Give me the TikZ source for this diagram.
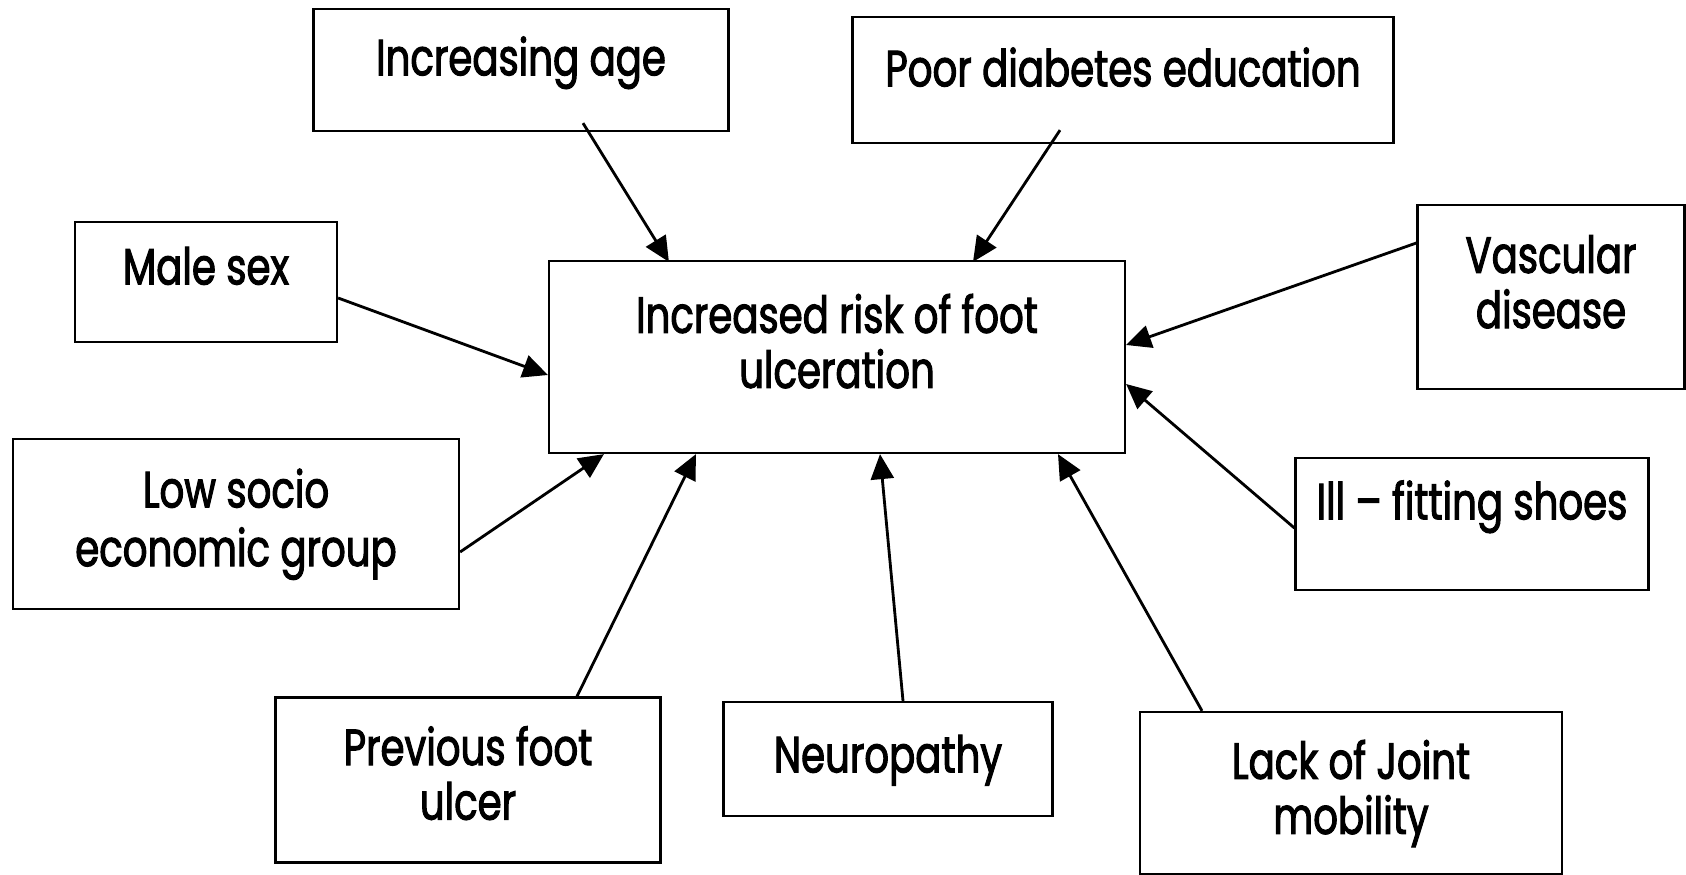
\documentclass[tikz,border=0pt]{standalone}
\usepackage{fontspec}
\setmainfont{Poppins}[FakeStretch=0.76,FakeBold=2]
\usetikzlibrary{arrows.meta}
% box text, lines centred and lifted by #1
\newcommand\bt[2]{\raisebox{#1}[0pt][0pt]{\begin{tabular}{@{}c@{}}#2\end{tabular}}}

\begin{document}
\begin{tikzpicture}[x=0.02cm,y=-0.02cm,>={Triangle[length=0.5cm,width=0.46cm]},font=\fontsize{29}{31}\selectfont]
\tikzstyle{b}=[draw,line width=1.3pt,inner sep=0pt]
\tikzstyle{a}=[->,line width=1.6pt]
\useasboundingbox (0,0) rectangle (1686,875);
% risk factors round the centre box
\node[b,minimum width=8.3cm,minimum height=2.44cm] (age) at (521,70) {\bt{-0.1cm}{Increasing age}};
\node[b,minimum width=10.82cm,minimum height=2.52cm] (edu) at (1123,80) {\bt{-0.12cm}{Poor diabetes education}};
\node[b,minimum width=5.24cm,minimum height=2.4cm] (male) at (206,282) {\bt{-0.05cm}{Male sex}};
\node[b,minimum width=11.52cm,minimum height=3.84cm] (risk) at (837,357) {\bt{-0.06cm}{Increased risk of foot\\ulceration}};
\node[b,minimum width=5.34cm,minimum height=3.68cm] (vasc) at (1551,297) {\bt{-0.07cm}{Vascular\\disease}};
\node[b,minimum width=8.92cm,minimum height=3.4cm] (ses) at (236,524) {\bt{-0.25cm}{Low socio\\[2pt]economic group}};
\node[b,minimum width=7.06cm,minimum height=2.64cm] (shoes) at (1472,524) {\bt{0.1cm}{Ill – fitting shoes}};
\node[b,minimum width=7.7cm,minimum height=3.3cm] (ulcer) at (468,780) {\bt{-0.24cm}{Previous foot\\ulcer}};
\node[b,minimum width=6.58cm,minimum height=2.28cm] (neuro) at (888,759) {\bt{-0.27cm}{Neuropathy}};
\node[b,minimum width=8.44cm,minimum height=3.24cm] (joint) at (1351,793) {\bt{-0.26cm}{Lack of Joint\\mobility}};
% arrows into the centre
\draw[a] ([shift={(62,-9)}]age.south) -- ([shift={(121,2)}]risk.north west);
\draw[a] ([shift={(-63,-14)}]edu.south) -- ([shift={(136,2)}]risk.north);
\draw[a] ([shift={(0,16)}]male.east) -- ([shift={(0,18)}]risk.west);
\draw[a] ([shift={(0,-54)}]vasc.west) -- ([shift={(0,-12)}]risk.east);
\draw[a] ([shift={(0,28)}]ses.east) -- ([shift={(56,0)}]risk.south west);
\draw[a] ([shift={(0,4)}]shoes.west) -- ([shift={(0,27)}]risk.east);
\draw[a] ([shift={(109,0)}]ulcer.north) -- ([shift={(148,0)}]risk.south west);
\draw[a] ([shift={(15,0)}]neuro.north) -- ([shift={(43,0)}]risk.south);
\draw[a] ([shift={(-149,0)}]joint.north) -- ([shift={(221,0)}]risk.south);
\end{tikzpicture}
\end{document}
